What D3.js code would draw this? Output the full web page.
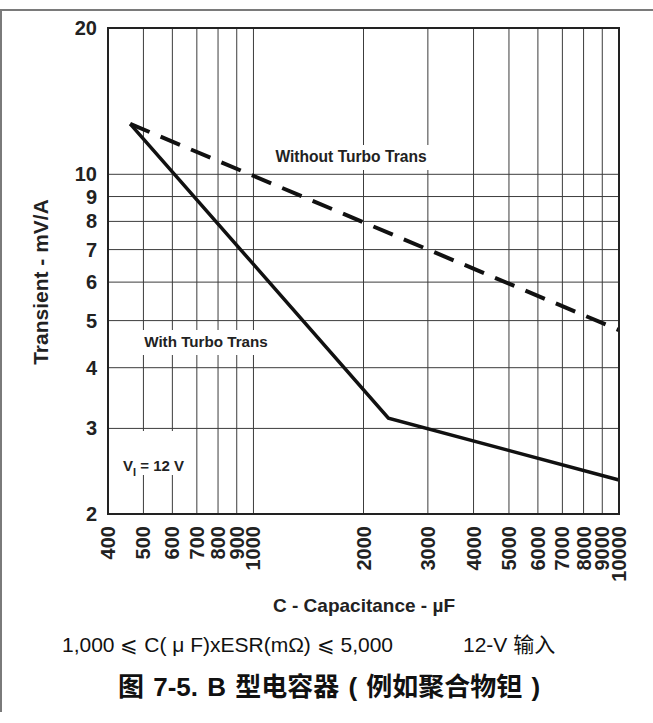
<!DOCTYPE html>
<html>
<head>
<meta charset="utf-8">
<script src="https://cdn.jsdelivr.net/npm/d3@7"></script>
<style>
  html, body { margin: 0; padding: 0; background: #fff; }
  svg { display: block; }
  text { font-family: "Liberation Sans", Arial, "Noto Sans CJK SC", sans-serif; }
</style>
</head>
<body>
<svg id="chart" width="653" height="723"></svg>
<script>
// Capacitance (µF) tick values and transient (mV/A) tick values
const xTicks = [400, 500, 600, 700, 800, 900, 1000, 2000, 3000, 4000, 5000, 6000, 7000, 8000, 9000, 10000];
const yTicks = [2, 3, 4, 5, 6, 7, 8, 9, 10, 20];
const yGrid = [3, 4, 5, 6, 7, 8, 9, 10];

// Transient response with Turbo Trans
const capWith = [460, 2340, 10000];
const transWith = [12.7, 3.15, 2.35];

// Transient response without Turbo Trans
const capWithout = [460, 10000];
const transWithout = [12.7, 4.78];

const svg = d3.select("#chart");

const x = d3.scaleLog().domain([400, 10000]).range([108, 619]);
const y = d3.scaleLog().domain([2, 20]).range([514, 28]);

// Page frame (top and left edges)
svg.append("path")
  .attr("d", "M1,712 L1,10 L653,10")
  .attr("fill", "none").attr("stroke", "#7a7a7a").attr("stroke-width", 2);

// Grid
const grid = svg.append("g");
grid.selectAll(".vx").data(xTicks.slice(1, -1)).join("line")
  .attr("x1", d => x(d)).attr("x2", d => x(d))
  .attr("y1", y(20)).attr("y2", y(2))
  .attr("stroke", "#3c3c3c").attr("stroke-width", 1);
grid.selectAll(".hy").data(yGrid).join("line")
  .attr("x1", x(400)).attr("x2", x(10000))
  .attr("y1", d => y(d)).attr("y2", d => y(d))
  .attr("stroke", "#3c3c3c").attr("stroke-width", 1);

// Label boxes that break the grid
const boxes = [
  { x0: 270, x1: 432, y0: 145, y1: 170 },
  { x0: 140, x1: 272, y0: 330, y1: 355 },
  { x0: 112, x1: 190, y0: 431, y1: 475 }
];
svg.selectAll(".box").data(boxes).join("rect")
  .attr("x", d => d.x0).attr("y", d => d.y0)
  .attr("width", d => d.x1 - d.x0).attr("height", d => d.y1 - d.y0)
  .attr("fill", "#fff");

// Curves
const line = d3.line().x(d => x(d[0])).y(d => y(d[1]));
svg.append("path")
  .datum(d3.zip(capWithout, transWithout))
  .attr("d", line)
  .attr("fill", "none").attr("stroke", "#111").attr("stroke-width", 4)
  .attr("stroke-dasharray", "21,12");
svg.append("path")
  .datum(d3.zip(capWith, transWith))
  .attr("d", line)
  .attr("fill", "none").attr("stroke", "#111").attr("stroke-width", 3.5)
  .attr("stroke-linejoin", "miter");

// Plot border
svg.append("rect")
  .attr("x", x(400)).attr("y", y(20))
  .attr("width", x(10000) - x(400)).attr("height", y(2) - y(20))
  .attr("fill", "none").attr("stroke", "#222").attr("stroke-width", 2);

// Y tick labels
svg.selectAll(".yl").data(yTicks).join("text")
  .attr("x", 97).attr("y", d => y(d))
  .attr("dy", "0.35em")
  .attr("text-anchor", "end")
  .attr("font-size", 20).attr("font-weight", "bold").attr("fill", "#222")
  .text(d => d);

// X tick labels (rotated)
svg.selectAll(".xl").data(xTicks).join("text")
  .attr("transform", d => `translate(${x(d)},526) rotate(-90)`)
  .attr("dy", "0.35em")
  .attr("text-anchor", "end")
  .attr("font-size", 20).attr("font-weight", "bold").attr("fill", "#222")
  .text(d => d);

// Axis titles
svg.append("text")
  .attr("transform", "translate(41,282) rotate(-90)")
  .attr("dy", "0.35em")
  .attr("text-anchor", "middle")
  .attr("font-size", 21).attr("font-weight", "bold").attr("fill", "#222")
  .text("Transient - mV/A");
svg.append("text")
  .attr("x", 364).attr("y", 612)
  .attr("text-anchor", "middle")
  .attr("font-size", 19).attr("font-weight", "bold").attr("fill", "#222")
  .text("C - Capacitance - \u00b5F");

// In-plot annotations
svg.append("text")
  .attr("x", 351).attr("y", 162)
  .attr("text-anchor", "middle")
  .attr("font-size", 15.6).attr("font-weight", "bold").attr("fill", "#222")
  .text("Without Turbo Trans");
svg.append("text")
  .attr("x", 206).attr("y", 347)
  .attr("text-anchor", "middle")
  .attr("font-size", 15.2).attr("font-weight", "bold").attr("fill", "#222")
  .text("With Turbo Trans");
const vi = svg.append("text")
  .attr("x", 123).attr("y", 471)
  .attr("font-size", 15).attr("font-weight", "bold").attr("fill", "#222");
vi.append("tspan").text("V");
vi.append("tspan").attr("dy", 5).attr("font-size", 11).text("I");
vi.append("tspan").attr("dy", -5).text(" = 12 V");

// Footnote
const note = svg.append("text")
  .attr("y", 652)
  .attr("font-size", 21).attr("fill", "#111")
  .attr("xml:space", "preserve");
note.append("tspan").attr("x", 62)
  .text("1,000 \u2A7D C( \u03bc F)xESR(m\u03a9) \u2A7D 5,000");
note.append("tspan").attr("x", 463).text("12-V \u8f93\u5165");

// Caption
svg.append("text")
  .attr("x", 118).attr("y", 696)
  .attr("font-size", 26).attr("font-weight", "bold").attr("fill", "#111")
  .attr("word-spacing", 2)
  .attr("xml:space", "preserve")
  .text("\u56fe 7-5. B \u578b\u7535\u5bb9\u5668 ( \u4f8b\u5982\u805a\u5408\u7269\u94bd )");
</script>
</body>
</html>
